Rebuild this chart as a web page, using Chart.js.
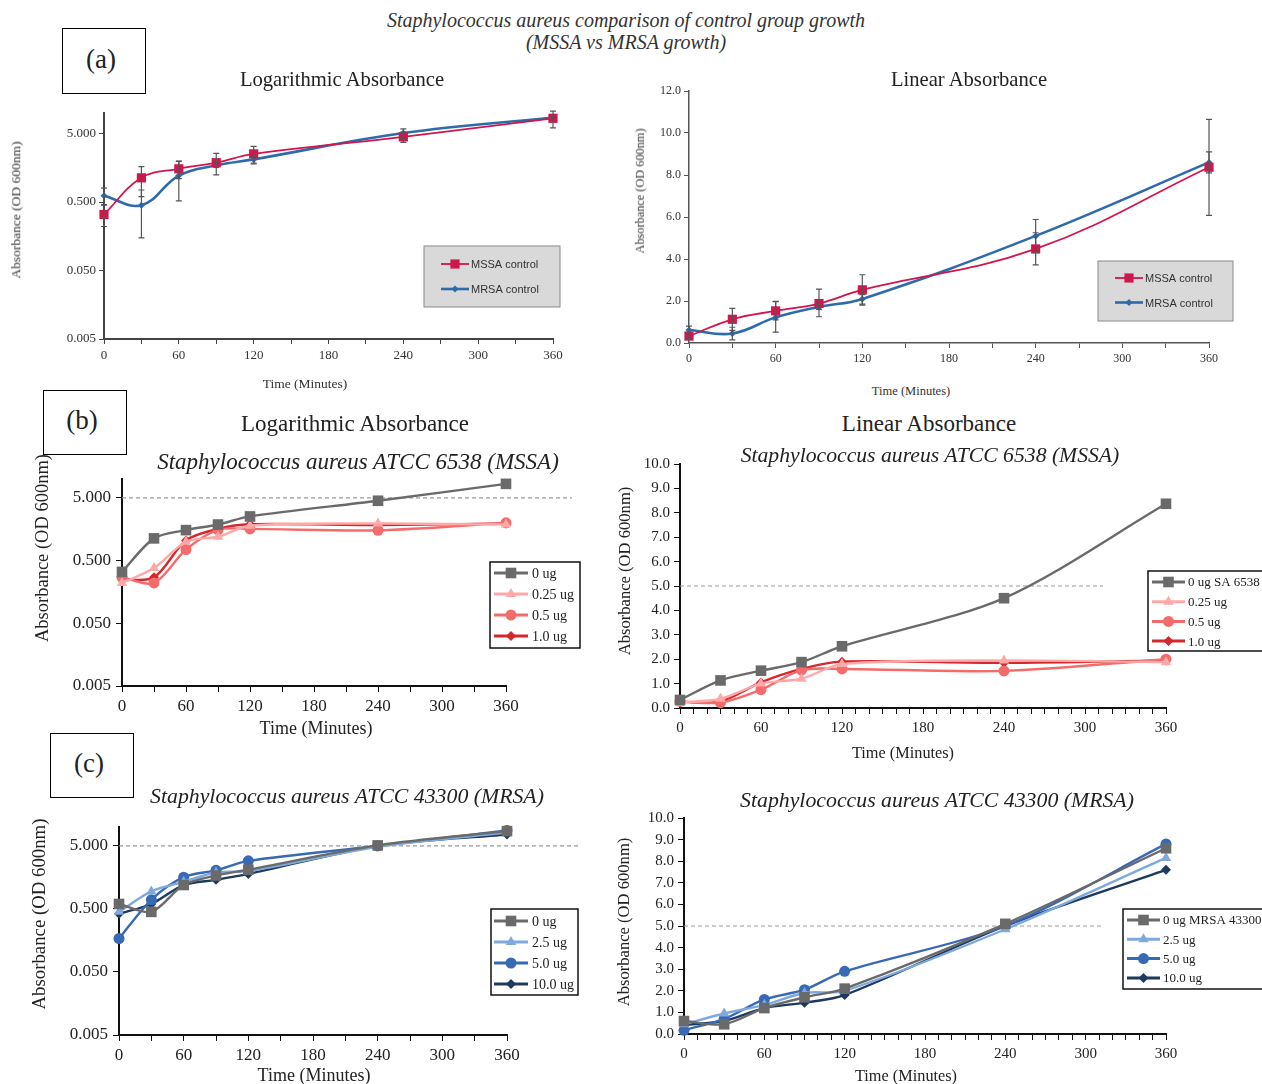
<!DOCTYPE html>
<html><head><meta charset="utf-8">
<script src="https://cdn.jsdelivr.net/npm/chart.js@4.4.0/dist/chart.umd.min.js"></script>
<style>
body{margin:0;background:#fff;width:1262px;height:1084px;position:relative;overflow:hidden;font-family:"Liberation Serif",serif;color:#222;}
canvas{position:absolute;}
.t{position:absolute;white-space:nowrap;transform:translate(-50%,-50%);z-index:5;line-height:1;}
.yt{position:absolute;white-space:nowrap;transform:translate(-50%,-50%) rotate(-90deg);z-index:5;line-height:1;}
.box{position:absolute;border:1px solid #000;display:flex;align-items:center;justify-content:center;font-size:27px;background:#fff;z-index:5;}
.it{font-style:italic;}
</style></head><body>

<div class="t it" style="left:626px;top:20px;font-size:20px;color:#333">Staphylococcus aureus comparison of control group growth</div>
<div class="t it" style="left:626px;top:42px;font-size:20px;color:#333">(MSSA vs MRSA growth)</div>

<div class="box" style="left:62px;top:28px;width:84px;height:66px;padding-right:6px;box-sizing:border-box;padding-bottom:4px">(a)</div>
<div class="t" style="left:342px;top:79px;font-size:20.6px">Logarithmic Absorbance</div>
<div class="t" style="left:969px;top:79px;font-size:20.6px">Linear Absorbance</div>
<div class="yt" style="left:16px;top:210px;font-size:13.5px;color:#333">Absorbance (OD 600nm)</div>
<div class="t" style="left:305px;top:384px;font-size:13.5px;color:#333">Time (Minutes)</div>
<div class="yt" style="left:640px;top:191px;font-size:12.3px;color:#333">Absorbance (OD 600nm)</div>
<div class="t" style="left:911px;top:391px;font-size:12.5px;color:#333">Time (Minutes)</div>

<div class="box" style="left:43px;top:390px;width:84px;height:65px;padding-right:6px;box-sizing:border-box;padding-bottom:4px">(b)</div>
<div class="t" style="left:355px;top:423px;font-size:23px">Logarithmic Absorbance</div>
<div class="t" style="left:929px;top:423px;font-size:23px">Linear Absorbance</div>
<div class="t it" style="left:358px;top:461px;font-size:23px">Staphylococcus aureus ATCC 6538 (MSSA)</div>
<div class="t it" style="left:930px;top:456px;font-size:21.7px">Staphylococcus aureus ATCC 6538 (MSSA)</div>
<div class="yt" style="left:42px;top:548px;font-size:18.5px">Absorbance (OD 600nm)</div>
<div class="t" style="left:316px;top:728px;font-size:18px">Time (Minutes)</div>
<div class="yt" style="left:625px;top:571px;font-size:16.6px">Absorbance (OD 600nm)</div>
<div class="t" style="left:903px;top:753px;font-size:16.3px">Time (Minutes)</div>

<div class="box" style="left:50px;top:733px;width:84px;height:65px;padding-right:6px;box-sizing:border-box;padding-bottom:4px">(c)</div>
<div class="t it" style="left:347px;top:797px;font-size:21.8px">Staphylococcus aureus ATCC 43300 (MRSA)</div>
<div class="t it" style="left:937px;top:801px;font-size:21.8px">Staphylococcus aureus ATCC 43300 (MRSA)</div>
<div class="yt" style="left:39px;top:914px;font-size:18.8px">Absorbance (OD 600nm)</div>
<div class="t" style="left:314px;top:1075px;font-size:18px">Time (Minutes)</div>
<div class="yt" style="left:624px;top:922px;font-size:16.6px">Absorbance (OD 600nm)</div>
<div class="t" style="left:906px;top:1076px;font-size:16.3px">Time (Minutes)</div>

<canvas id="aLog" width="580" height="312" style="left:0;top:80px"></canvas>
<canvas id="aLin" width="642" height="310" style="left:620px;top:70px"></canvas>
<canvas id="bLog" width="590" height="270" style="left:0;top:460px"></canvas>
<canvas id="bLin" width="662" height="300" style="left:600px;top:445px"></canvas>
<canvas id="cLog" width="590" height="272" style="left:0;top:805px"></canvas>
<canvas id="cLin" width="662" height="276" style="left:600px;top:798px"></canvas>

<script>
// ---------- DATA ----------
const times = [0, 30, 60, 90, 120, 240, 360];
const logTicks = [0.005, 0.05, 0.5, 5];
const threshold = 5;

// (a) control groups (mean, lower and upper error bar)
const mssaControl     = [0.33, 1.13, 1.53, 1.88, 2.53, 4.48, 8.37];
const mssaControlLow  = [0.22, 0.60, 1.10, 1.25, 1.85, 3.72, 6.08];
const mssaControlHigh = [0.46, 1.65, 1.97, 2.57, 3.25, 5.25, 10.65];
const mrsaControl     = [0.62, 0.45, 1.22, 1.72, 2.10, 5.10, 8.60];
const mrsaControlLow  = [0.45, 0.15, 0.52, 1.60, 1.80, 4.30, 8.10];
const mrsaControlHigh = [0.80, 0.75, 1.98, 1.85, 2.30, 5.88, 9.10];

// (b) MSSA ATCC 6538 with treatment doses
const mssa0   = [0.33, 1.13, 1.53, 1.88, 2.53, 4.50, 8.37];
const mssa025 = [0.22, 0.38, 1.00, 1.20, 1.80, 1.95, 1.88];
const mssa05  = [0.27, 0.22, 0.75, 1.55, 1.60, 1.52, 2.00];
const mssa10  = [0.25, 0.27, 1.05, 1.60, 1.90, 1.85, 1.95];

// (c) MRSA ATCC 43300 with treatment doses
const mrsa0   = [0.60, 0.45, 1.20, 1.70, 2.10, 5.10, 8.60];
const mrsa25  = [0.45, 0.95, 1.35, 1.90, 2.00, 4.85, 8.15];
const mrsa50  = [0.17, 0.70, 1.60, 2.05, 2.90, 5.00, 8.80];
const mrsa100 = [0.42, 0.60, 1.20, 1.45, 1.80, 5.00, 7.60];

// ---------- HELPERS ----------
const pts = arr => times.map((t, i) => ({x: t, y: arr[i]}));

function drawMarker(ctx, style, x, y, r, color){
  ctx.save();
  ctx.fillStyle = color; ctx.strokeStyle = color;
  if (Chart.helpers && Chart.helpers.drawPoint) {
    Chart.helpers.drawPoint(ctx, {pointStyle: style, radius: r, rotation: 0, borderWidth: 0}, x, y);
  } else {
    ctx.beginPath(); ctx.arc(x, y, r, 0, Math.PI*2); ctx.fill();
  }
  ctx.restore();
}

const errorBars = {
  id: 'errorBars',
  afterDatasetsDraw(chart){
    const {ctx, scales: {x, y}} = chart;
    chart.data.datasets.forEach(ds => {
      if (!ds.errLow) return;
      ctx.save(); ctx.strokeStyle = '#555'; ctx.lineWidth = 1.2;
      ds.data.forEach((p, j) => {
        const px = x.getPixelForValue(p.x);
        const y1 = y.getPixelForValue(ds.errLow[j]);
        const y2 = Math.max(y.getPixelForValue(ds.errHigh[j]), chart.chartArea.top - 6);
        ctx.beginPath();
        ctx.moveTo(px, y1); ctx.lineTo(px, y2);
        ctx.moveTo(px-3, y1); ctx.lineTo(px+3, y1);
        ctx.moveTo(px-3, y2); ctx.lineTo(px+3, y2);
        ctx.stroke();
      });
      ctx.restore();
    });
  }
};

const refLine = {
  id: 'refLine',
  beforeDatasetsDraw(chart, args, o){
    if (o.value == null) return;
    const {ctx, chartArea, scales: {y}} = chart;
    const py = y.getPixelForValue(o.value);
    ctx.save(); ctx.setLineDash([4, 3]); ctx.strokeStyle = o.color; ctx.lineWidth = 1.2;
    ctx.beginPath(); ctx.moveTo(chartArea.left, py); ctx.lineTo(chartArea.right + o.extend, py); ctx.stroke();
    ctx.restore();
  }
};

const boxLegend = {
  id: 'boxLegend',
  afterDraw(chart, args, o){
    if (o.x == null) return;
    const ctx = chart.ctx;
    ctx.save();
    ctx.fillStyle = o.fill; ctx.fillRect(o.x, o.y, o.w, o.h);
    ctx.strokeStyle = o.stroke; ctx.lineWidth = o.lineWidth; ctx.strokeRect(o.x, o.y, o.w, o.h);
    ctx.font = o.font; ctx.textBaseline = 'middle'; ctx.textAlign = 'left';
    chart.data.datasets.forEach((ds, i) => {
      const cy = o.firstRow + i * o.rowH;
      ctx.strokeStyle = ds.borderColor; ctx.lineWidth = o.sampleWidth || ds.borderWidth;
      ctx.beginPath(); ctx.moveTo(o.sx1, cy); ctx.lineTo(o.sx2, cy); ctx.stroke();
      drawMarker(ctx, ds.pointStyle, (o.sx1 + o.sx2) / 2, cy, ds.pointRadius, ds.pointBackgroundColor);
      ctx.fillStyle = o.textColor; ctx.fillText(ds.label, o.tx, cy + 1);
    });
    ctx.restore();
  }
};

function series(label, arr, color, style, r, bw, tension, extra){
  return Object.assign({
    label, data: pts(arr), borderColor: color, backgroundColor: color,
    pointBackgroundColor: color, pointBorderColor: color, pointBorderWidth: 0,
    pointStyle: style, pointRadius: r, pointHoverRadius: r,
    borderWidth: bw, tension, clip: false
  }, extra || {});
}

function makeChart(id, cfg){
  const xTicks = {
    type: 'linear', min: 0, max: 360,
    ticks: {stepSize: cfg.xStep, autoSkip: false, maxRotation: 0, font: cfg.tickFont, color: cfg.tickColor,
            padding: cfg.xPad, callback: v => (v % 60 === 0 ? String(v) : '')},
    grid: {drawOnChartArea: false, drawTicks: true, tickLength: cfg.tickLen, color: cfg.axisColor, lineWidth: 1},
    border: {color: cfg.axisColor, width: cfg.axisWidth},
    afterFit: s => { s.height = cfg.xH; }
  };
  let yScale;
  if (cfg.log) {
    yScale = {
      type: 'logarithmic', min: 0.005, max: 10,
      afterBuildTicks: s => { s.ticks = logTicks.map(v => ({value: v})); },
      ticks: {autoSkip: false, font: cfg.tickFont, color: cfg.tickColor, padding: cfg.yPad, callback: v => Number(v).toFixed(3)},
      grid: {drawOnChartArea: false, tickLength: cfg.tickLen, color: cfg.axisColor},
      border: {color: cfg.axisColor, width: cfg.axisWidth},
      afterFit: s => { s.width = cfg.W; }
    };
  } else {
    yScale = {
      type: 'linear', min: 0, max: cfg.yMax,
      ticks: {stepSize: cfg.yStep, autoSkip: false, font: cfg.tickFont, color: cfg.tickColor, padding: cfg.yPad, callback: v => Number(v).toFixed(1)},
      grid: {drawOnChartArea: false, tickLength: cfg.tickLen, color: cfg.axisColor},
      border: {color: cfg.axisColor, width: cfg.axisWidth},
      afterFit: s => { s.width = cfg.W; }
    };
  }
  return new Chart(document.getElementById(id), {
    type: 'line',
    data: {datasets: cfg.datasets},
    options: {
      responsive: false, animation: false, devicePixelRatio: 1,
      layout: {padding: {top: cfg.padTop, right: cfg.padRight, left: 0, bottom: 0}},
      scales: {x: xTicks, y: yScale},
      plugins: {
        legend: {display: false}, tooltip: {enabled: false},
        refLine: cfg.ref || {},
        boxLegend: cfg.legend
      }
    },
    plugins: [errorBars, refLine, boxLegend]
  });
}

// ---------- COLOURS ----------
const cMSSA = '#d0164c', cMRSA = '#2f6aab';
const cGray = '#6a6a6a', cP1 = '#ffa8a8', cP2 = '#f46b6b', cP3 = '#d4282c';
const cB1 = '#7fa9dd', cB2 = '#3869b4', cB3 = '#1d3960';

const fA = {family: '"Liberation Serif", serif', size: 13};
const fB = {family: '"Liberation Serif", serif', size: 17};
const fBl = {family: '"Liberation Serif", serif', size: 15};

const legA = {fill: '#d9d9d9', stroke: '#8a8a8a', lineWidth: 1, font: '11px "Liberation Sans", sans-serif', textColor: '#333'};
const legB = {fill: '#ffffff', stroke: '#111', lineWidth: 1.5, font: '14px "Liberation Serif", serif', textColor: '#222', sampleWidth: 3};

const dsAcontrols = () => [
  series('MSSA control', mssaControl, cMSSA, 'rect', 6.5, 1.8, 0.4, {errLow: mssaControlLow, errHigh: mssaControlHigh}),
  series('MRSA control', mrsaControl, cMRSA, 'rectRot', 3.5, 2.6, 0.4, {errLow: mrsaControlLow, errHigh: mrsaControlHigh})
];

makeChart('aLog', {
  log: true, W: 104, padTop: 33, padRight: 27, xH: 53, xStep: 30, tickLen: 5, xPad: 4, yPad: 3,
  tickFont: fA, tickColor: '#333', axisColor: '#444', axisWidth: 2,
  datasets: dsAcontrols(),
  legend: Object.assign({x: 424, y: 166, w: 136, h: 61, firstRow: 184, rowH: 25, sx1: 441, sx2: 469, tx: 471}, legA)
});
makeChart('aLin', {
  log: false, yMax: 12, yStep: 2, W: 69, padTop: 21, padRight: 53, xH: 37, xStep: 30, tickLen: 5, xPad: 4, yPad: 3,
  tickFont: {family: '"Liberation Serif", serif', size: 12}, tickColor: '#333', axisColor: '#555', axisWidth: 1.5,
  datasets: dsAcontrols(),
  legend: Object.assign({x: 478, y: 191, w: 135, h: 60, firstRow: 208, rowH: 24.5, sx1: 495, sx2: 523, tx: 525}, legA)
});

const dsB = lab0 => [
  series(lab0, mssa0, cGray, 'rect', 7.5, 2.4, 0.3),
  series('0.25 ug', mssa025, cP1, 'triangle', 6, 2.4, 0.3),
  series('0.5 ug', mssa05, cP2, 'circle', 5.5, 2.4, 0.3),
  series('1.0 ug', mssa10, cP3, 'rectRot', 5, 2.4, 0.3)
];
makeChart('bLog', {
  log: true, W: 122, padTop: 19, padRight: 84, xH: 44, xStep: 30, tickLen: 6, xPad: 4, yPad: 5,
  tickFont: fB, tickColor: '#222', axisColor: '#111', axisWidth: 2,
  datasets: dsB('0 ug'), ref: {value: threshold, extend: 66, color: '#999'},
  legend: Object.assign({x: 490, y: 102, w: 90, h: 86, firstRow: 113, rowH: 21, sx1: 494, sx2: 528, tx: 532}, legB)
});
makeChart('bLin', {
  log: false, yMax: 10, yStep: 1, W: 80, padTop: 19, padRight: 96, xH: 37, xStep: 10, tickLen: 6, xPad: 5, yPad: 4,
  tickFont: fBl, tickColor: '#222', axisColor: '#111', axisWidth: 2,
  datasets: dsB('0 ug SA 6538'), ref: {value: threshold, extend: -63, color: '#999'},
  legend: Object.assign({}, legB, {x: 548, y: 126, w: 116, h: 80, firstRow: 137, rowH: 19.7, sx1: 552, sx2: 585, tx: 588, font: '13px "Liberation Serif", serif'})
});

const dsC = lab0 => [
  series(lab0, mrsa0, cGray, 'rect', 7.5, 2.4, 0.3),
  series('2.5 ug', mrsa25, cB1, 'triangle', 6, 2.4, 0.3),
  series('5.0 ug', mrsa50, cB2, 'circle', 5.5, 2.4, 0.3),
  series('10.0 ug', mrsa100, cB3, 'rectRot', 5, 2.4, 0.3)
];
makeChart('cLog', {
  log: true, W: 119, padTop: 22, padRight: 83, xH: 42, xStep: 30, tickLen: 6, xPad: 4, yPad: 5,
  tickFont: fB, tickColor: '#222', axisColor: '#111', axisWidth: 2,
  datasets: dsC('0 ug'), ref: {value: threshold, extend: 71, color: '#999'},
  legend: Object.assign({x: 491, y: 104, w: 87, h: 86, firstRow: 116, rowH: 21, sx1: 494, sx2: 528, tx: 532}, legB)
});
makeChart('cLin', {
  log: false, yMax: 10, yStep: 1, W: 84, padTop: 20, padRight: 96, xH: 40, xStep: 10, tickLen: 6, xPad: 5, yPad: 4,
  tickFont: fBl, tickColor: '#222', axisColor: '#111', axisWidth: 2,
  datasets: dsC('0 ug MRSA 43300'), ref: {value: threshold, extend: -63, color: '#999'},
  legend: Object.assign({}, legB, {x: 523, y: 111, w: 141, h: 80, firstRow: 122, rowH: 19.3, sx1: 527, sx2: 560, tx: 563, font: '13px "Liberation Serif", serif'})
});
</script>
</body></html>
